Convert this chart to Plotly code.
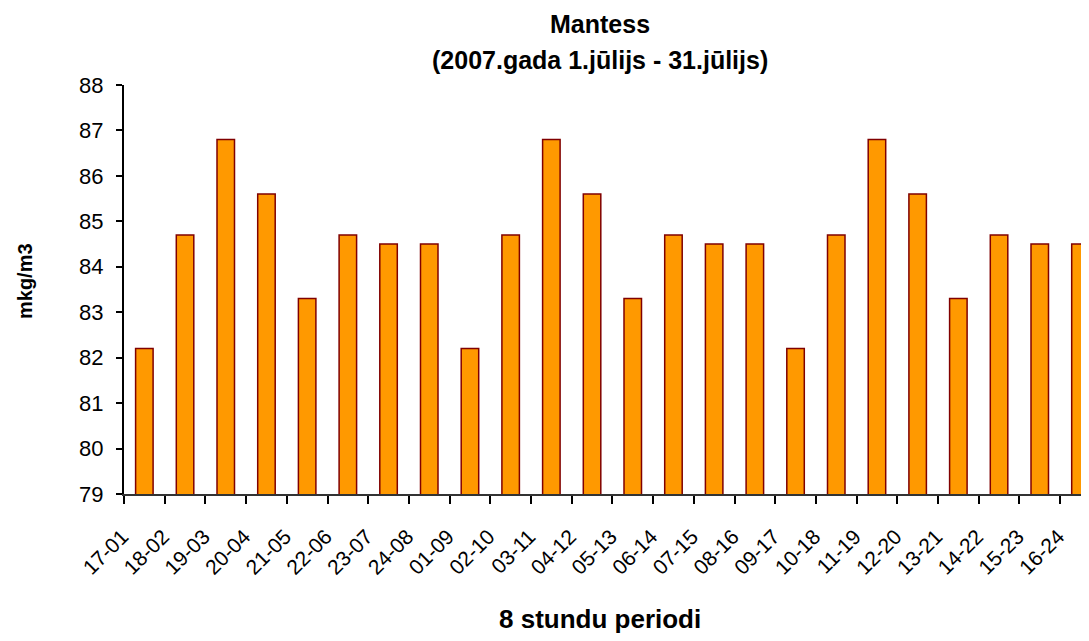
import plotly.graph_objects as go

categories = ["17-01", "18-02", "19-03", "20-04", "21-05", "22-06", "23-07", "24-08",
              "01-09", "02-10", "03-11", "04-12", "05-13", "06-14", "07-15", "08-16",
              "09-17", "10-18", "11-19", "12-20", "13-21", "14-22", "15-23", "16-24"]
values = [82.2, 84.7, 86.8, 85.6, 83.3, 84.7, 84.5, 84.5,
          82.2, 84.7, 86.8, 85.6, 83.3, 84.7, 84.5, 84.5,
          82.2, 84.7, 86.8, 85.6, 83.3, 84.7, 84.5, 84.5]
y_ticks = list(range(79, 89))

FONT = "Liberation Sans, Arial, sans-serif"

fig = go.Figure(go.Bar(
    x=categories, y=values, width=0.43,
    marker=dict(color="#FF9900", line=dict(color="#800000", width=1.5)),
))

# page body has an 8px margin; compensate so the plot sits where the reference has it
OFF = 8
W, H = 1089 - OFF, 641 - OFF
L, R, T = 124 - OFF, 0, 85 - OFF
PH = 409
B = H - T - PH
pw = W - L - R

def px_x(px):
    return (px - OFF - L) / pw

def px_y(py):
    return (T + PH - (py - OFF)) / PH

fig.update_layout(
    width=W, height=H,
    margin=dict(l=L, r=R, t=T, b=B, pad=0),
    paper_bgcolor="white", plot_bgcolor="white",
    showlegend=False,
    font=dict(family=FONT, color="black", size=22),
    xaxis=dict(
        type="category", range=[-0.5, 23.21],
        tickson="boundaries", ticks="outside", ticklen=8, tickcolor="black", tickwidth=2,
        showline=True, linecolor="#333333", linewidth=2,
        tickangle=-45, tickfont=dict(size=21, family=FONT),
        ticklabelshift=-22, ticklabelstandoff=20,
        showgrid=False, zeroline=False,
    ),
    yaxis=dict(
        range=[79, 88], tickvals=y_ticks,
        ticks="outside", ticklen=6, tickcolor="black", tickwidth=2,
        showline=True, linecolor="black", linewidth=2,
        tickfont=dict(size=22, family=FONT), ticklabelstandoff=8,
        showgrid=False, zeroline=False,
    ),
    annotations=[
        dict(text="<b>Mantess</b>", xref="paper", yref="paper", x=px_x(600), y=px_y(24),
             xanchor="center", yanchor="middle", showarrow=False, font=dict(size=25, family=FONT)),
        dict(text="<b>(2007.gada 1.jūlijs - 31.jūlijs)</b>", xref="paper", yref="paper",
             x=px_x(600), y=px_y(60), xanchor="center", yanchor="middle", showarrow=False,
             font=dict(size=25, family=FONT)),
        dict(text="<b>8 stundu periodi</b>", xref="paper", yref="paper", x=px_x(600), y=px_y(619),
             xanchor="center", yanchor="middle", showarrow=False, font=dict(size=26, family=FONT)),
        dict(text="<b>mkg/m3</b>", xref="paper", yref="paper", x=px_x(25), y=px_y(281),
             xanchor="center", yanchor="middle", showarrow=False, textangle=-90,
             font=dict(size=20, family=FONT)),
    ],
)

fig.write_html("out.html")
